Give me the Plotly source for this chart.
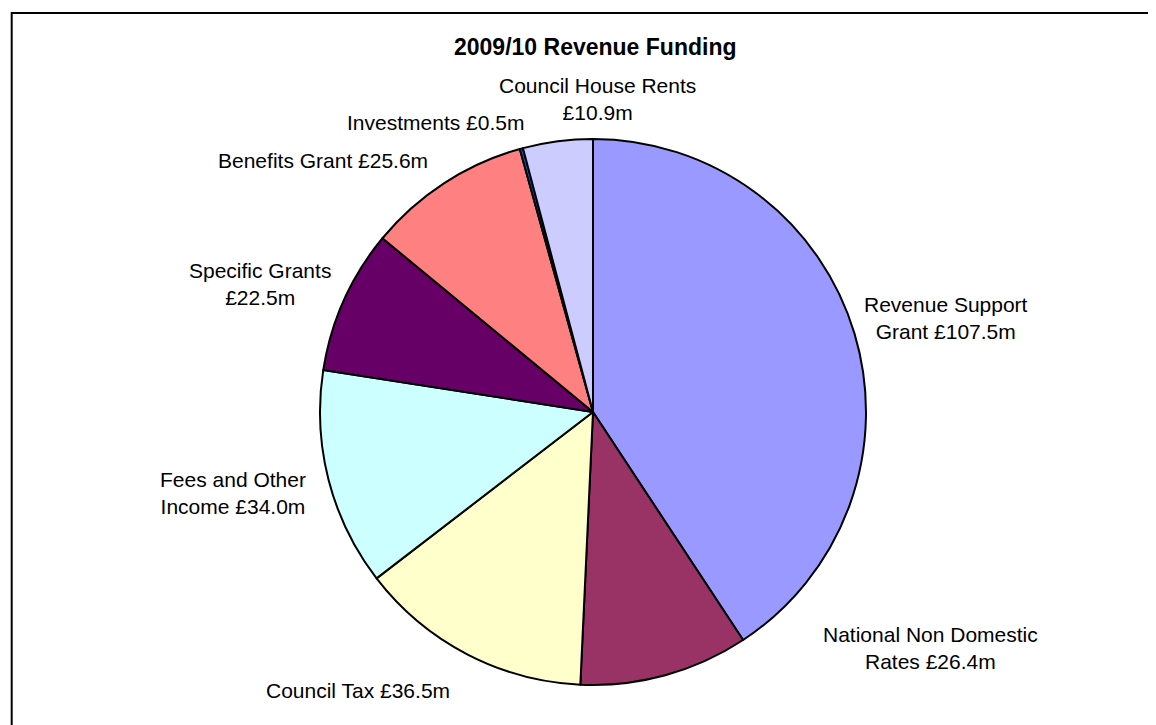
import plotly.graph_objects as go

# data (GBP millions)
names = ['Revenue Support Grant', 'National Non Domestic Rates', 'Council Tax',
         'Fees and Other Income', 'Specific Grants', 'Benefits Grant',
         'Investments', 'Council House Rents']
values = [107.5, 26.4, 36.5, 34.0, 22.5, 25.6, 0.5, 10.9]
label_text = ['Revenue Support<br>Grant £107.5m',
              'National Non Domestic<br>Rates £26.4m',
              'Council Tax £36.5m',
              'Fees and Other<br>Income £34.0m',
              'Specific Grants<br>£22.5m',
              'Benefits Grant £25.6m',
              'Investments £0.5m',
              'Council House Rents<br>£10.9m']
colors = ['#9999FF', '#993366', '#FFFFCC', '#CCFFFF', '#660066', '#FF8080',
          '#0066CC', '#CCCCFF']

W, H = 1156, 725
OFF = 8  # page body margin pushes the figure 8px right/down
cx, cy, r = 593 - OFF, 412 - OFF, 273
# label centres in pixels (layout only)
label_pos = [(946, 318), (930, 648), (358, 690), (233, 493),
             (260, 284), (323, 160), (435, 123), (597, 99)]

fig = go.Figure()
fig.add_trace(go.Pie(labels=names, values=values, sort=False,
                     direction='clockwise', rotation=0,
                     marker=dict(colors=colors, line=dict(color='black', width=2)),
                     textinfo='none', hoverinfo='label+value', showlegend=False,
                     domain=dict(x=[(cx - r) / W, (cx + r) / W],
                                 y=[1 - (cy + r) / H, 1 - (cy - r) / H])))

#slice labels
for txt, (px_, py_) in zip(label_text, label_pos):
    fig.add_annotation(xref='paper', yref='paper', x=(px_ - OFF) / W, y=1 - (py_ - OFF) / H,
                       xanchor='center', yanchor='middle', showarrow=False,
                       align='center', text=txt,
                       font=dict(family='Arial, Liberation Sans', size=21, color='black'))

fig.add_annotation(xref='paper', yref='paper', x=(595 - OFF) / W, y=1 - (47 - OFF) / H,
                   xanchor='center', yanchor='middle', showarrow=False,
                   text='<b>2009/10 Revenue Funding</b>',
                   font=dict(family='Arial, Liberation Sans', size=23, color='black'))

# chart frame, runs off the right and bottom edges
fig.add_shape(type='rect', xref='paper', yref='paper',
              x0=(11.7 - OFF) / W, x1=1.02, y0=-0.02, y1=1 - (13 - OFF) / H,
              line=dict(color='black', width=2))

fig.update_layout(width=W, height=H, margin=dict(l=0, r=0, t=0, b=0),
                  paper_bgcolor='white', plot_bgcolor='white')
fig.write_html('out.html')
